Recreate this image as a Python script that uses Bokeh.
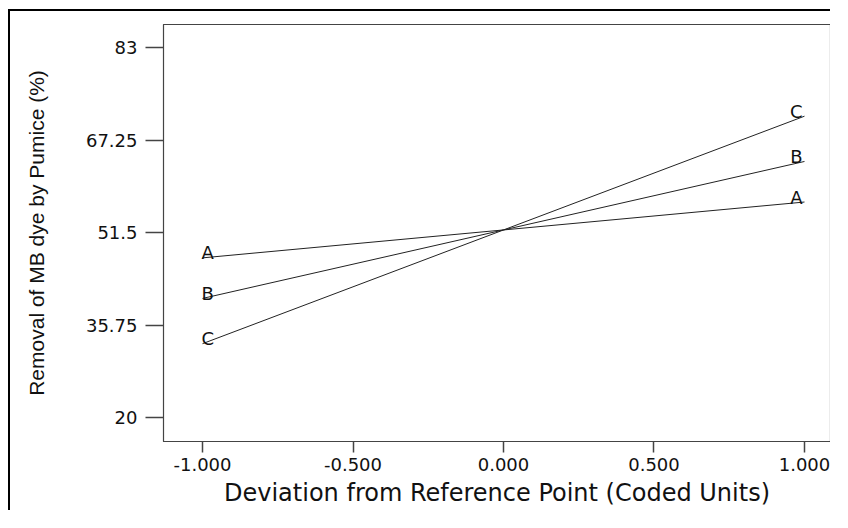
from bokeh.plotting import figure
from bokeh.models import FixedTicker, Range1d, ColumnDataSource
from bokeh.core.properties import value
from bokeh.embed import file_html
from bokeh.resources import INLINE

# ---- data ----
x_points = [-1.0, 0.0, 1.0]
series_names = ["A", "B", "C"]
series_A = [47.2, 51.95, 56.7]
series_B = [40.3, 51.95, 63.6]
series_C = [32.6, 51.95, 71.3]
x_ticks = [-1.0, -0.5, 0.0, 0.5, 1.0]
x_tick_labels = ["-1.000", "-0.500", "0.000", "0.500", "1.000"]
y_ticks = [20, 35.75, 51.5, 67.25, 83]
y_tick_labels = ["20", "35.75", "51.5", "67.25", "83"]
x_title = "Deviation from Reference Point (Coded Units)"
y_title = "Removal of MB dye by Pumice (%)"

series = [series_A, series_B, series_C]

Y0, Y1 = 15.96, 86.9
p = figure(width=822, height=501, output_backend="svg", toolbar_location=None,
           x_range=Range1d(-1.1296, 1.0864), y_range=Range1d(Y0, Y1),
           min_border_left=153, min_border_right=2, min_border_top=13, min_border_bottom=71)
p.styles = {"margin-left": "8px", "margin-top": "9px",
            "border-left": "2px solid black", "border-top": "2px solid black"}

p.xgrid.visible = False
p.ygrid.visible = False
p.background_fill_color = "white"
p.border_fill_color = "white"
p.outline_line_color = "#444444"
p.outline_line_width = 1.2

axis_color = "#444444"
for ax in (p.xaxis[0], p.yaxis[0]):
    ax.axis_line_color = axis_color
    ax.major_tick_line_color = axis_color
    ax.major_tick_line_width = 1.5
    ax.minor_tick_line_color = None
    ax.major_tick_in = 0
    ax.major_label_text_font = "DejaVu Sans"
    ax.major_label_text_font_size = "18px"
    ax.major_label_text_color = "#111111"
    ax.axis_label_text_font_style = "normal"
    ax.axis_label_text_color = "#111111"

p.xaxis.ticker = FixedTicker(ticks=x_ticks)
p.xaxis.major_label_overrides = {t: l for t, l in zip(x_ticks, x_tick_labels)}
p.xaxis.major_tick_out = 11
p.xaxis.major_label_standoff = 5
p.xaxis.axis_label = x_title
p.xaxis.axis_label_text_font = "DejaVu Sans"
p.xaxis.axis_label_text_font_size = "24px"
p.xaxis.axis_label_standoff = 5

p.yaxis.ticker = FixedTicker(ticks=y_ticks)
p.yaxis.major_label_overrides = {t: l for t, l in zip(y_ticks, y_tick_labels)}
p.yaxis.major_tick_out = 18
p.yaxis.major_label_standoff = 8
p.yaxis.axis_label = y_title
p.yaxis.axis_label_text_font = "Liberation Sans"
p.yaxis.axis_label_text_font_size = "21px"
p.yaxis.axis_label_standoff = 35

for name, ys in zip(series_names, series):
    p.line(x_points, ys, line_color="#222222", line_width=1)

left_src = ColumnDataSource(dict(x=[x_points[0]] * 3, y=[s[0] for s in series], t=series_names))
right_src = ColumnDataSource(dict(x=[x_points[-1]] * 3, y=[s[-1] for s in series], t=series_names))
p.text(x="x", y="y", text="t", source=left_src, text_align="left", text_baseline="alphabetic",
       x_offset=-1, y_offset=-5, text_font=value("DejaVu Sans"), text_font_size="18px",
       text_color="#111111")
p.text(x="x", y="y", text="t", source=right_src, text_align="right", text_baseline="alphabetic",
       x_offset=-2, y_offset=-5, text_font=value("DejaVu Sans"), text_font_size="18px",
       text_color="#111111")

open("out.html", "w").write(file_html(p, INLINE))
